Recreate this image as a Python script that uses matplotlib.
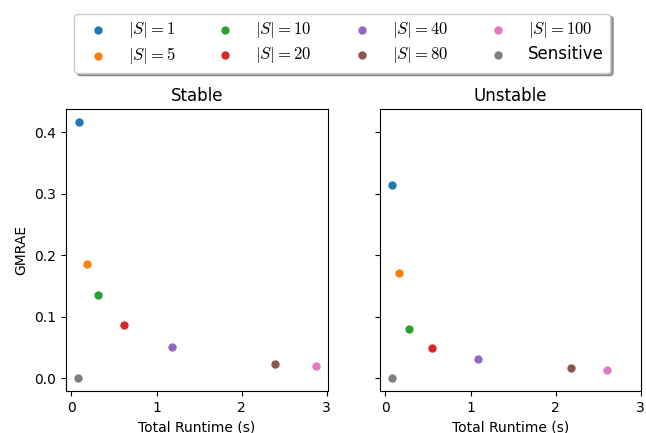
import matplotlib
matplotlib.use("Agg")
import matplotlib.pyplot as plt

plt.rcParams['mathtext.fontset'] = 'cm'

labels = [r"$|S| = 1$", r"$|S| = 5$", r"$|S| = 10$", r"$|S| = 20$",
          r"$|S| = 40$", r"$|S| = 80$", r"$|S| = 100$", "Sensitive"]
colors = ["C0", "C1", "C2", "C3", "C4", "C5", "C6", "C7"]

# stable runs
stable_time = [0.09, 0.18, 0.317, 0.614, 1.18, 2.39, 2.87, 0.082]
stable_err = [0.417, 0.186, 0.135, 0.086, 0.0507, 0.0224, 0.020, 0.0]

# unstable runs
unstable_time = [0.074, 0.16, 0.274, 0.552, 1.09, 2.18, 2.60, 0.082]
unstable_err = [0.314, 0.171, 0.0806, 0.049, 0.0316, 0.0158, 0.0137, 0.0]


def draw(ax, xs, ys, title):
    for x, y, c, lab in zip(xs, ys, colors, labels):
        ax.scatter(x, y, color=c, s=25, label=lab)
    ax.set_title(title)
    ax.set_xlabel("Total Runtime (s)")


fig, (ax1, ax2) = plt.subplots(1, 2, sharex=True, sharey=True, figsize=(6.46, 4.33), dpi=100)
draw(ax1, stable_time, stable_err, "Stable")
draw(ax2, unstable_time, unstable_err, "Unstable")
ax1.set_ylabel("GMRAE")

handles, labs = ax1.get_legend_handles_labels()
fig.legend(handles, labs, loc="upper center", bbox_to_anchor=(0.53, 0.988), ncol=4,
           fontsize=12, shadow=True, columnspacing=2.0, labelspacing=0.3)

plt.subplots_adjust(left=0.102, right=0.993, bottom=0.097, top=0.748, wspace=0.2)
fig.savefig("out.png", dpi=100)
